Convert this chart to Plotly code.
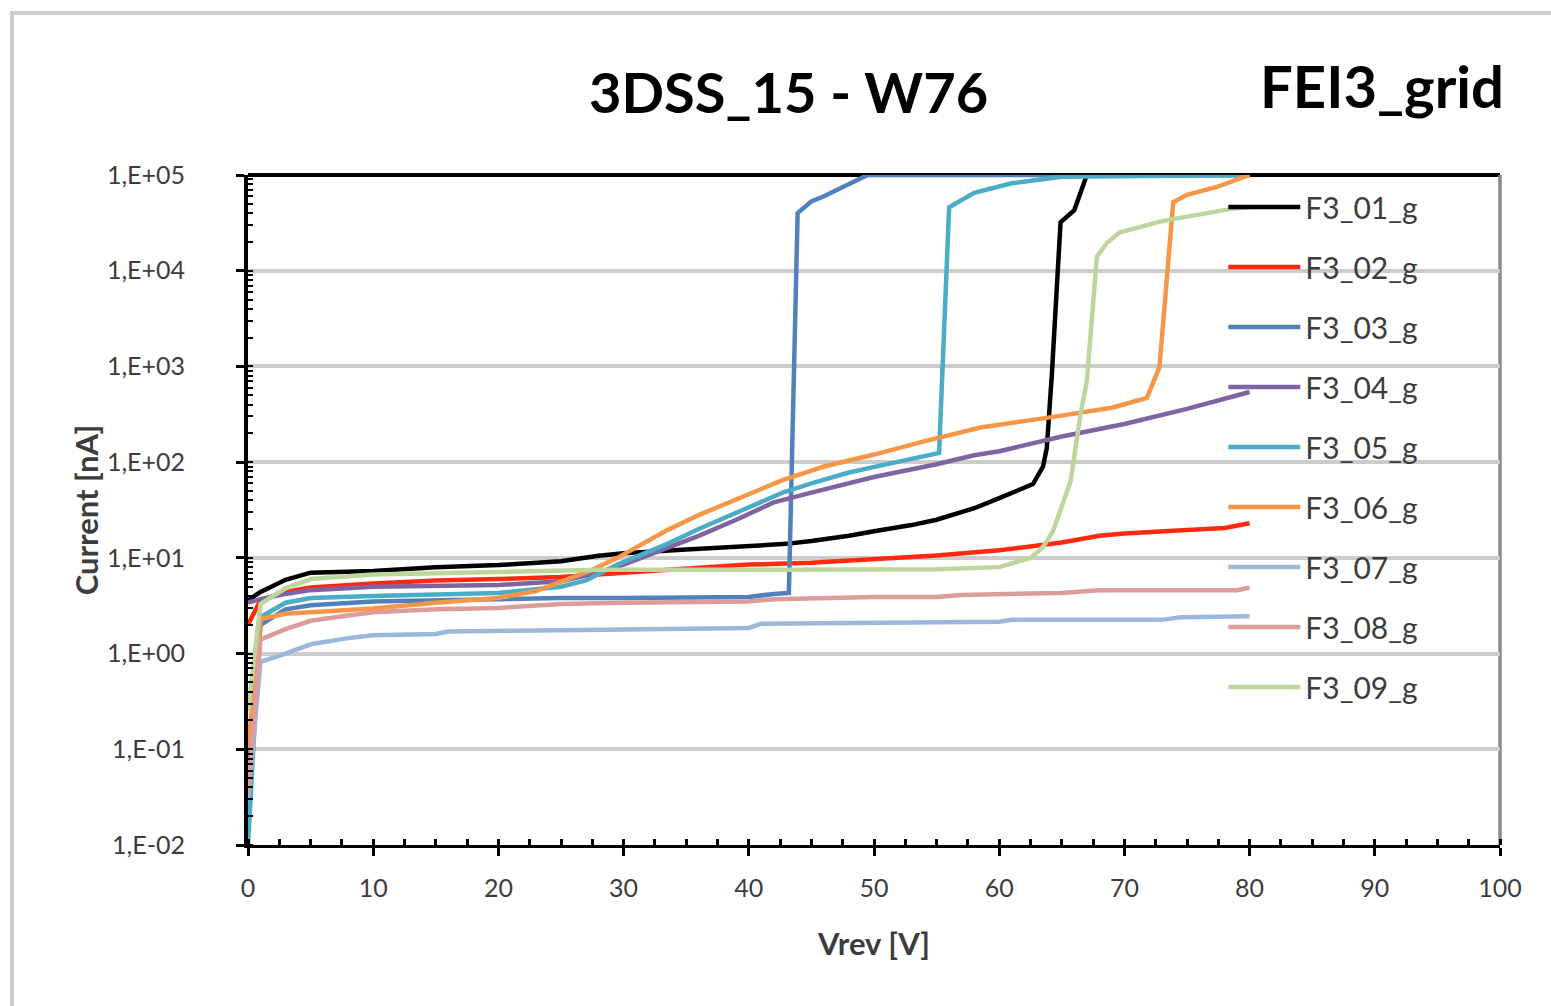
import plotly.graph_objects as go

# Reverse-bias I-V sweeps, 3DSS_15 wafer W76, FEI3 grid devices
series_names = ["F3_01_g", "F3_02_g", "F3_03_g", "F3_04_g", "F3_05_g",
                "F3_06_g", "F3_07_g", "F3_08_g", "F3_09_g"]
series_colors = ["#000000", "#ff2a0f", "#4f81bd", "#8064a2", "#4bacc6",
                 "#f79646", "#9cb7db", "#dc9c9a", "#bcd69c"]

# Vrev [V] / Current [nA]
v_01 = [0, 1, 3, 5, 10, 15, 20, 25, 28, 30, 35, 40, 43, 45, 48, 50, 53, 55, 58, 60, 62, 62.7, 63.5, 63.8, 64.2, 64.6, 64.9, 66, 67, 80]
i_01 = [3.6, 4.4, 5.9, 7.0, 7.3, 8.0, 8.4, 9.2, 10.5, 11.2, 12.2, 13.2, 14.0, 15, 17, 19, 22, 25, 33, 42, 55, 59, 90, 140, 800, 6000, 3.2e4, 4.3e4, 1e5, 1e5]

v_02 = [0, 1, 3, 5, 10, 15, 20, 25, 30, 35, 40, 45, 50, 55, 60, 65, 68, 70, 75, 78, 80]
i_02 = [2.0, 3.6, 4.4, 4.9, 5.4, 5.8, 6.0, 6.3, 7.0, 7.8, 8.5, 8.9, 9.7, 10.6, 12.0, 14.5, 17.0, 18.0, 19.5, 20.5, 23]

v_03 = [0, 1, 3, 5, 10, 20, 25, 30, 35, 40, 42, 43.2, 43.9, 45, 46, 47.5, 49.5, 80]
i_03 = [0.05, 2.0, 2.9, 3.2, 3.5, 3.7, 3.8, 3.8, 3.8, 3.9, 4.2, 4.3, 4.0e4, 5.3e4, 6.0e4, 7.5e4, 1e5, 1e5]

v_04 = [0, 1, 3, 5, 10, 15, 20, 25, 28, 30, 33, 36, 39, 42, 45, 50, 55, 58, 60, 65, 70, 75, 80]
i_04 = [3.4, 3.7, 4.2, 4.6, 5.0, 5.1, 5.2, 5.7, 7.0, 8.5, 12, 17, 25, 38, 48, 70, 95, 118, 130, 185, 250, 360, 540]

v_05 = [0, 1, 3, 5, 10, 15, 20, 25, 27, 29.5, 33.5, 36, 38.8, 42.7, 45, 48, 50.5, 53, 55.2, 56, 58, 61, 65, 80]
i_05 = [0.01, 2.4, 3.4, 3.8, 4.0, 4.1, 4.3, 5.0, 5.8, 8.5, 14, 20, 29, 48, 60, 78, 92, 108, 125, 4.6e4, 6.5e4, 8.2e4, 9.6e4, 1e5]

v_06 = [0, 1, 3, 5, 10, 15, 20, 23, 25.5, 27.5, 29.5, 33.5, 36, 38.8, 42.7, 46, 50, 54, 58.5, 63.8, 66, 69, 71.8, 72.8, 73.9, 75, 77.4, 80]
i_06 = [0.1, 2.3, 2.6, 2.7, 2.95, 3.4, 3.8, 4.5, 5.9, 7.5, 10, 19.5, 28, 40, 65, 90, 120, 165, 230, 290, 320, 370, 470, 990, 5.2e4, 6.2e4, 7.5e4, 1e5]

v_07 = [0, 1, 3, 5, 8, 10, 15, 16, 25, 35, 40, 41, 50, 60, 61, 73, 74.5, 80]
i_07 = [0.03, 0.82, 1.0, 1.25, 1.45, 1.55, 1.6, 1.7, 1.75, 1.8, 1.85, 2.05, 2.1, 2.15, 2.25, 2.25, 2.4, 2.45]

v_08 = [0, 1, 3, 5, 8, 10, 15, 20, 25, 30, 40, 42, 50, 55, 57, 65, 68, 75, 79, 80]
i_08 = [0.035, 1.4, 1.8, 2.2, 2.5, 2.7, 2.9, 3.0, 3.3, 3.4, 3.5, 3.7, 3.9, 3.9, 4.1, 4.3, 4.6, 4.6, 4.6, 4.9]

v_09 = [0, 1, 3, 5, 10, 15, 20, 28, 35, 45, 55, 60, 62.5, 63.5, 64.3, 65.7, 66.5, 67, 67.8, 68.6, 69.6, 73, 76.3, 78.4, 80]
i_09 = [0.25, 3.3, 4.8, 6.0, 6.7, 6.9, 7.0, 7.5, 7.5, 7.5, 7.6, 8.0, 10, 13, 19, 63, 320, 700, 1.4e4, 1.95e4, 2.5e4, 3.3e4, 4.0e4, 4.4e4, 4.6e4]

voltages = [v_01, v_02, v_03, v_04, v_05, v_06, v_07, v_08, v_09]
currents = [i_01, i_02, i_03, i_04, i_05, i_06, i_07, i_08, i_09]

y_tick_values = [1e-2, 1e-1, 1e0, 1e1, 1e2, 1e3, 1e4, 1e5]
y_tick_labels = ["1,E-02", "1,E-01", "1,E+00", "1,E+01", "1,E+02", "1,E+03", "1,E+04", "1,E+05"]

FONT = "Lato"
LABEL_GREY = "#3c3c3c"

fig = go.Figure()
for name, color, v, i in zip(series_names, series_colors, voltages, currents):
    fig.add_trace(go.Scatter(
        x=v, y=i, mode="lines", name=name, legendgroup=name,
        line=dict(color=color, width=4.5),
    ))

fig.update_layout(
    width=1551, height=1006, autosize=False,
    margin=dict(l=248, r=51, t=175, b=161),
    paper_bgcolor="white", plot_bgcolor="white",
    font=dict(family=FONT, color=LABEL_GREY),
    showlegend=True,
    legend=dict(
        x=0.779, xanchor="left", y=0.991, yanchor="top",
        bgcolor="rgba(0,0,0,0)", borderwidth=0,
        font=dict(family=FONT, size=30, color=LABEL_GREY),
        itemwidth=72, traceorder="grouped", tracegroupgap=18,
    ),
    xaxis=dict(
        range=[0, 100], tick0=0, dtick=10,
        ticks="outside", ticklen=8, tickwidth=2.5, tickcolor="black",
        showline=True, linecolor="black", linewidth=3,
        showgrid=False, zeroline=False,
        minor=dict(ticks="inside", dtick=2.5, ticklen=6, tickwidth=2.5, tickcolor="black", showgrid=False),
        tickfont=dict(family=FONT, size=25, color=LABEL_GREY),
        ticklabelstandoff=11,
        title=dict(text="Vrev [V]", standoff=33,
                   font=dict(family=FONT, size=31, color=LABEL_GREY, weight="bold")),
    ),
    yaxis=dict(
        type="log", range=[-2, 5],
        tickvals=y_tick_values, ticktext=y_tick_labels,
        ticks="outside", ticklen=8, tickwidth=2.5, tickcolor="black",
        showline=True, linecolor="black", linewidth=4,
        showgrid=True, gridcolor="#cccccc", gridwidth=3.5,
        zeroline=False,
        minor=dict(ticks="inside", dtick="D1", ticklen=5, tickwidth=2, tickcolor="black", showgrid=False),
        tickfont=dict(family=FONT, size=25, color=LABEL_GREY),
        ticklabelstandoff=46,
        title=dict(text="Current [nA]", standoff=0,
                   font=dict(family=FONT, size=31, color=LABEL_GREY, weight="bold")),
    ),
    # inner halves of the major ticks, so they cross the axis lines
    xaxis2=dict(
        overlaying="x", anchor="y", range=[0, 100], tick0=0, dtick=10,
        ticks="inside", ticklen=8, tickwidth=2.5, tickcolor="black",
        showticklabels=False, showline=False, showgrid=False, zeroline=False,
    ),
    yaxis2=dict(
        overlaying="y", anchor="x", type="log", range=[-2, 5], dtick=1,
        ticks="inside", ticklen=8, tickwidth=2.5, tickcolor="black",
        showticklabels=False, showline=False, showgrid=False, zeroline=False,
    ),
    shapes=[
        # plot frame: black top edge, grey right edge
        dict(type="line", xref="paper", yref="paper", x0=0, x1=1, y0=1, y1=1,
             line=dict(color="black", width=4), layer="between"),
        dict(type="line", xref="paper", yref="paper", x0=1, x1=1, y0=0, y1=1,
             line=dict(color="#8a8a8a", width=3.5), layer="between"),
        # chart-area border
        dict(type="rect", xref="paper", yref="paper",
             x0=-0.1885, x1=1.2, y0=-0.4, y1=1.2418,
             line=dict(color="#cccccc", width=4), fillcolor="rgba(0,0,0,0)", layer="below"),
    ],
    annotations=[
        dict(text="3DSS_15 - W76", xref="paper", yref="paper", x=0.432, y=1.124,
             xanchor="center", yanchor="middle", showarrow=False,
             font=dict(family=FONT, size=56, color="black", weight="bold")),
        dict(text="FEI3_grid", xref="paper", yref="paper", x=0.906, y=1.134,
             xanchor="center", yanchor="middle", showarrow=False,
             font=dict(family=FONT, size=58, color="black", weight="bold")),
    ],
)

fig.write_html("out.html")
